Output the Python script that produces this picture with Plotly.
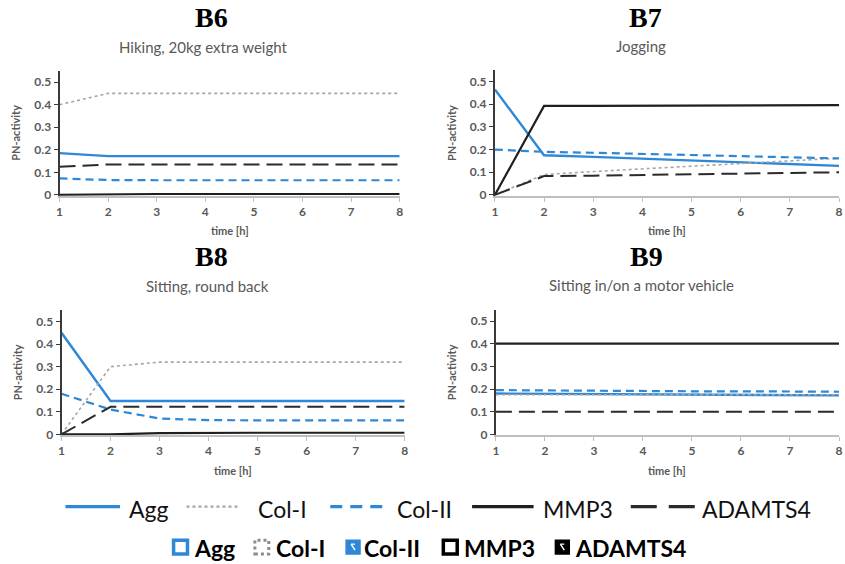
import plotly.graph_objects as go

W, H = 845, 564

# ---- data -----------------------------------------------------------------
hours = [1, 2, 3, 4, 5, 6, 7, 8]
series_names = ["Agg", "Col-I", "Col-II", "MMP3", "ADAMTS4"]
y_ticks = [0, 0.1, 0.2, 0.3, 0.4, 0.5]
y_tick_text = ["0", "0.1", "0.2", "0.3", "0.4", "0.5"]

panel_codes = ["B6", "B7", "B8", "B9"]
panel_titles = [
    "Hiking, 20kg extra weight",
    "Jogging",
    "Sitting, round back",
    "Sitting in/on a motor vehicle",
]

# B6 - hiking with 20 kg extra weight
b6_agg = [0.185, 0.172, 0.172, 0.172, 0.172, 0.172, 0.172, 0.172]
b6_col1 = [0.400, 0.450, 0.450, 0.450, 0.450, 0.450, 0.450, 0.450]
b6_col2 = [0.073, 0.066, 0.065, 0.065, 0.065, 0.065, 0.065, 0.065]
b6_mmp3 = [0.000, 0.003, 0.004, 0.004, 0.004, 0.004, 0.004, 0.004]
b6_adamts4 = [0.125, 0.135, 0.135, 0.135, 0.135, 0.135, 0.135, 0.135]

# B7 - jogging
b7_agg = [0.465, 0.175, 0.168, 0.160, 0.152, 0.145, 0.137, 0.128]
b7_col1 = [0.000, 0.090, 0.103, 0.115, 0.126, 0.138, 0.150, 0.162]
b7_col2 = [0.200, 0.190, 0.186, 0.181, 0.176, 0.171, 0.166, 0.161]
b7_mmp3 = [0.000, 0.393, 0.393, 0.394, 0.395, 0.395, 0.396, 0.396]
b7_adamts4 = [0.000, 0.083, 0.085, 0.088, 0.090, 0.093, 0.097, 0.100]

# B8 - sitting with a round back
b8_agg = [0.450, 0.148, 0.148, 0.148, 0.148, 0.148, 0.148, 0.148]
b8_col1 = [0.000, 0.300, 0.320, 0.320, 0.320, 0.320, 0.320, 0.320]
b8_col2 = [0.180, 0.110, 0.070, 0.063, 0.062, 0.062, 0.062, 0.062]
b8_mmp3 = [0.000, 0.000, 0.005, 0.007, 0.007, 0.007, 0.007, 0.007]
b8_adamts4 = [0.000, 0.122, 0.122, 0.122, 0.122, 0.122, 0.122, 0.122]

# B9 - sitting in/on a motor vehicle
b9_agg = [0.180, 0.179, 0.178, 0.177, 0.175, 0.174, 0.173, 0.172]
b9_col1 = [0.175, 0.175, 0.175, 0.175, 0.175, 0.175, 0.175, 0.175]
b9_col2 = [0.195, 0.193, 0.192, 0.191, 0.190, 0.190, 0.189, 0.188]
b9_mmp3 = [0.400, 0.400, 0.400, 0.400, 0.400, 0.400, 0.400, 0.400]
b9_adamts4 = [0.100, 0.100, 0.100, 0.100, 0.100, 0.100, 0.100, 0.100]

panel_series = [
    [b6_agg, b6_col1, b6_col2, b6_mmp3, b6_adamts4],
    [b7_agg, b7_col1, b7_col2, b7_mmp3, b7_adamts4],
    [b8_agg, b8_col1, b8_col2, b8_mmp3, b8_adamts4],
    [b9_agg, b9_col1, b9_col2, b9_mmp3, b9_adamts4],
]

# ---- styling --------------------------------------------------------------
BLUE = "#2E88D6"
GREY = "#A6A6A6"
DARK = "#1F1F1F"
TEXT_GREY = "#595959"
SANS = "Lato, Roboto, sans-serif"
SERIF = "Liberation Serif, DejaVu Serif, serif"

line_styles = {
    "Agg": dict(color=BLUE, width=2.4, dash="solid"),
    "Col-I": dict(color=GREY, width=1.6, dash="dot"),
    "Col-II": dict(color=BLUE, width=2.2, dash="8px,5px"),
    "MMP3": dict(color=DARK, width=2.2, dash="solid"),
    "ADAMTS4": dict(color="#2A2A2A", width=2.0, dash="16px,7px"),
}

Y_MIN, Y_MAX = -0.004, 0.55

# plot-area boxes in pixels: left, right, pixel of y=0, pixels per unit
boxes = [
    (57, 400, 197, 228),
    (496, 843, 197, 229),
    (59, 405, 439, 228),
    (497, 843, 439, 229),
]
# heading placement in pixels: (code x, subtitle x, code y, subtitle y)
headings = [
    (210, 202, 18, 47),
    (648, 643, 18, 46),
    (210, 206, 259, 289),
    (649, 644, 259, 288),
]


def px(x):
    return x / W


def py(y):
    return 1 - y / H


fig = go.Figure()
annotations = []
shapes = []

for i, (code, subtitle, series, box, head) in enumerate(
    zip(panel_codes, panel_titles, panel_series, boxes, headings)
):
    n = "" if i == 0 else str(i + 1)
    left, right, zero_px, scale = box
    bottom_px = zero_px - Y_MIN * scale
    top_px = zero_px - Y_MAX * scale

    for name, values in zip(series_names, series):
        fig.add_trace(
            go.Scatter(
                x=hours,
                y=values,
                mode="lines",
                name=name,
                line=line_styles[name],
                showlegend=False,
                xaxis="x" + n,
                yaxis="y" + n,
            )
        )

    tick_font = dict(family=SANS, size=12, color=TEXT_GREY, weight="bold")
    fig.update_layout(
        **{
            "xaxis" + n: dict(
                domain=[px(left), px(right)],
                anchor="y" + n,
                range=[1, 8],
                tickvals=hours,
                showline=True,
                linecolor="#BFBFBF",
                linewidth=1.5,
                ticks="outside",
                ticklen=4,
                tickcolor="#BFBFBF",
                showgrid=False,
                zeroline=False,
                tickfont=tick_font,
            ),
            "yaxis" + n: dict(
                domain=[py(bottom_px), py(top_px)],
                anchor="x" + n,
                range=[Y_MIN, Y_MAX],
                tickvals=y_ticks,
                ticktext=y_tick_text,
                showline=True,
                linecolor="#3A3A3A",
                linewidth=2,
                ticks="outside",
                ticklen=4,
                tickcolor="#3A3A3A",
                showgrid=False,
                zeroline=False,
                tickfont=tick_font,
            ),
        }
    )

    code_x, sub_x, code_y, sub_y = head
    annotations.append(dict(
        text=code, xref="paper", yref="paper",
        x=px(code_x), y=py(code_y), xanchor="center", yanchor="middle",
        showarrow=False, font=dict(family=SERIF, size=28, color="black", weight="bold"),
    ))
    annotations.append(dict(
        text=subtitle, xref="paper", yref="paper",
        x=px(sub_x), y=py(sub_y), xanchor="center", yanchor="middle",
        showarrow=False, font=dict(family=SANS, size=15, color=TEXT_GREY),
    ))
    annotations.append(dict(
        text="PN-activity", xref="x" + n + " domain", yref="y" + n + " domain",
        x=0, y=0.5, xshift=-44, xanchor="center", yanchor="middle", textangle=-90,
        showarrow=False, font=dict(family=SANS, size=11, color=TEXT_GREY, weight="bold"),
    ))
    annotations.append(dict(
        text="time [h]", xref="x" + n + " domain", yref="y" + n + " domain",
        x=0.5, y=0, yshift=-35, xanchor="center", yanchor="middle",
        showarrow=False, font=dict(family=SANS, size=11, color=TEXT_GREY, weight="bold"),
    ))

# ---- legend: line keys ----------------------------------------------------
line_key_pos = [(63, 118, 125), (185, 238, 255), (330, 387, 395), (473, 535, 542), (633, 698, 703)]
line_key_dash = {
    "Agg": "solid", "Col-I": "3px,3px", "Col-II": "12px,8px",
    "MMP3": "solid", "ADAMTS4": "26px,12px",
}
ROW1 = 512
for name, (x0, x1, tx) in zip(series_names, line_key_pos):
    st = line_styles[name]
    shapes.append(dict(
        type="line", xref="paper", yref="paper",
        x0=px(x0), x1=px(x1), y0=py(ROW1), y1=py(ROW1),
        line=dict(color=st["color"], width=3.2 if name != "Col-I" else 2.2,
                  dash=line_key_dash[name]),
    ))
    annotations.append(dict(
        text=name, xref="paper", yref="paper", x=px(tx), y=py(ROW1 + 2),
        xanchor="left", yanchor="middle", showarrow=False,
        font=dict(family=SANS, size=23, color="#111111"),
    ))

# ---- legend: box keys -----------------------------------------------------
ROW2 = 553
box_key_pos = [(172, 191), (254, 273), (346, 362), (444, 463), (557, 575)]
for name, (bx, tx) in zip(series_names, box_key_pos):
    y0, y1 = py(ROW2 + 7), py(ROW2 - 7)
    x0, x1 = px(bx), px(bx + 14)
    if name == "Agg":
        shapes.append(dict(type="rect", xref="paper", yref="paper", x0=x0, x1=x1, y0=y0, y1=y1,
                           fillcolor="white", line=dict(color=BLUE, width=3.5)))
    elif name == "Col-I":
        shapes.append(dict(type="rect", xref="paper", yref="paper", x0=x0, x1=x1, y0=y0, y1=y1,
                           fillcolor="white", line=dict(color="#8C8C8C", width=3, dash="3px,3px")))
    elif name == "MMP3":
        shapes.append(dict(type="rect", xref="paper", yref="paper", x0=x0, x1=x1, y0=y0, y1=y1,
                           fillcolor="white", line=dict(color="black", width=3.5)))
    else:
        fill = BLUE if name == "Col-II" else "black"
        shapes.append(dict(type="rect", xref="paper", yref="paper", x0=x0, x1=x1, y0=y0, y1=y1,
                           fillcolor=fill, line=dict(color=fill, width=1.5)))
        shapes.append(dict(type="line", xref="paper", yref="paper",
                           x0=px(bx + 5), x1=px(bx + 9), y0=py(ROW2 - 3), y1=py(ROW2 + 3),
                           line=dict(color="white", width=1.5)))
        shapes.append(dict(type="line", xref="paper", yref="paper",
                           x0=px(bx + 5), x1=px(bx + 9), y0=py(ROW2 - 3), y1=py(ROW2 - 3),
                           line=dict(color="white", width=1.2)))
    annotations.append(dict(
        text=name, xref="paper", yref="paper", x=px(tx), y=py(ROW2 + 1),
        xanchor="left", yanchor="middle", showarrow=False,
        font=dict(family=SANS, size=23, color="black", weight="bold"),
    ))

fig.update_layout(
    width=W,
    height=H,
    margin=dict(l=0, r=0, t=0, b=0),
    paper_bgcolor="white",
    plot_bgcolor="white",
    showlegend=False,
    annotations=annotations,
    shapes=shapes,
)

fig.write_html("out.html")
